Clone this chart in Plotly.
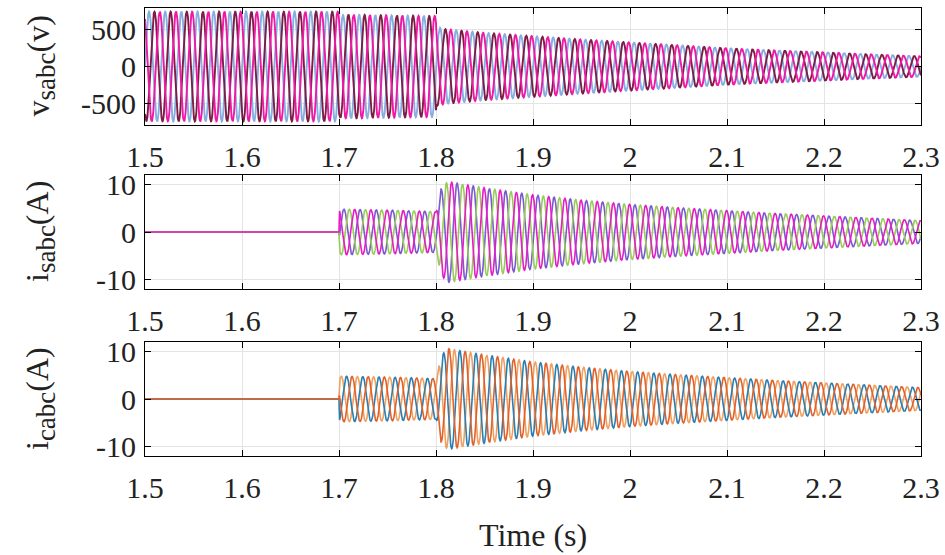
import numpy as np
import plotly.graph_objects as go

# ---------------- data ----------------
x_ticks = [1.5, 1.6, 1.7, 1.8, 1.9, 2.0, 2.1, 2.2, 2.3]
x_tick_labels = ["1.5", "1.6", "1.7", "1.8", "1.9", "2", "2.1", "2.2", "2.3"]
v_ticks = [-500, 0, 500]
v_tick_labels = ["-500", "0", "500"]
i_ticks = [-10, 0, 10]
i_tick_labels = ["-10", "0", "10"]

freq_hz = 60.0                       # counted: 6 cycles per 0.1 s
phase_deg = [0.0, -120.0, 120.0]     # three-phase set

# peak-envelope of the source voltage (V)
v_env_t = [1.5, 1.7, 1.7005, 1.71, 1.75, 1.8, 1.8005, 1.81, 1.85, 1.9, 1.95, 2.0, 2.05, 2.1, 2.15, 2.2, 2.25, 2.3]
v_env_a = [750, 750, 700, 710, 700, 690, 540, 510, 460, 415, 370, 330, 290, 250, 220, 195, 165, 140]

# peak-envelope of the currents (A) read from the middle / bottom panels
i_env_t = [1.5, 1.7, 1.7005, 1.75, 1.7995, 1.8, 1.805, 1.812, 1.85, 1.9, 1.95, 2.0, 2.05, 2.1, 2.15, 2.2, 2.25, 2.3]
i_env_a = [0, 0, 4.8, 4.6, 4.3, 4.3, 9.0, 10.6, 9.3, 7.8, 6.7, 5.8, 5.1, 4.5, 3.9, 3.4, 2.9, 2.4]

v_colors = ["#86aee0", "#7d1d45", "#ee1aa6"]
is_colors = ["#7a5ad0", "#98cc58", "#e61cc4"]
ic_colors = ["#f0a060", "#2a7eb0", "#e0622a"]

# ---------------- build waveforms ----------------
t = np.arange(1.5, 2.3 + 1e-9, 0.0002)
v_env = np.interp(t, v_env_t, v_env_a)
i_env = np.interp(t, i_env_t, i_env_a)

def phases(env, shift_deg):
    return [env * np.sin(2 * np.pi * freq_hz * t + np.radians(p + shift_deg)) for p in phase_deg]

v_abc = phases(v_env, 0)
is_abc = phases(i_env, -20)
ic_abc = phases(i_env, 40)

FONT = "Liberation Serif"
FS = 30
TXT = "#222222"

fig = go.Figure()
for k in range(3):
    fig.add_trace(go.Scatter(x=t, y=v_abc[k], mode="lines", line=dict(color=v_colors[k], width=1.9),
                             xaxis="x", yaxis="y", showlegend=False, hoverinfo="skip"))
for k in range(3):
    fig.add_trace(go.Scatter(x=t, y=is_abc[k], mode="lines", line=dict(color=is_colors[k], width=1.6),
                             xaxis="x2", yaxis="y2", showlegend=False, hoverinfo="skip"))
for k in range(3):
    fig.add_trace(go.Scatter(x=t, y=ic_abc[k], mode="lines", line=dict(color=ic_colors[k], width=1.6),
                             xaxis="x3", yaxis="y3", showlegend=False, hoverinfo="skip"))

W, H = 945, 555
x0, x1 = 145 / W, 921 / W
doms = [(1 - 125 / H, 1 - 8 / H), (1 - 289 / H, 1 - 175 / H), (1 - 456 / H, 1 - 342 / H)]

common_x = dict(range=[1.5, 2.3], tickvals=x_ticks, ticktext=x_tick_labels, domain=[x0, x1],
                showline=True, linecolor="black", linewidth=1, mirror="ticks",
                ticks="inside", ticklen=6, tickcolor="black", showgrid=True, gridcolor="#e4e4e4",
                gridwidth=1, zeroline=False, tickfont=dict(family=FONT, size=FS, color=TXT),
                ticklabelstandoff=5, automargin=False)
common_y = dict(showline=True, linecolor="black", linewidth=1, mirror="ticks",
                ticks="inside", ticklen=6, tickcolor="black", showgrid=True, gridcolor="#e4e4e4",
                gridwidth=1, zeroline=False, tickfont=dict(family=FONT, size=FS, color=TXT),
                ticklabelstandoff=2, automargin=False)

fig.update_layout(
    width=W, height=H, margin=dict(l=0, r=0, t=0, b=0),
    paper_bgcolor="white", plot_bgcolor="white",
    font=dict(family=FONT, size=FS, color=TXT),
    xaxis=dict(common_x, anchor="y"),
    xaxis2=dict(common_x, anchor="y2"),
    xaxis3=dict(common_x, anchor="y3"),
    yaxis=dict(common_y, range=[-800, 800], tickvals=v_ticks, ticktext=v_tick_labels,
               domain=list(doms[0]), anchor="x"),
    yaxis2=dict(common_y, range=[-12, 12], tickvals=i_ticks, ticktext=i_tick_labels,
                domain=list(doms[1]), anchor="x2"),
    yaxis3=dict(common_y, range=[-12, 12], tickvals=i_ticks, ticktext=i_tick_labels,
                domain=list(doms[2]), anchor="x3"),
)

SUB = "<sub><span style='font-size:27px'>{}</span></sub>"
titles = ["v" + SUB.format("sabc") + "(v)", "i" + SUB.format("sabc") + "(A)", "i" + SUB.format("cabc") + "(A)"]
for (d0, d1), txt in zip(doms, titles):
    fig.add_annotation(text=txt, xref="paper", yref="paper", x=40 / W, y=(d0 + d1) / 2,
                       textangle=-90, showarrow=False, xanchor="center", yanchor="middle",
                       font=dict(family=FONT, size=32, color=TXT))
fig.add_annotation(text="Time (s)", xref="paper", yref="paper", x=(x0 + x1) / 2, y=1 - 535 / H,
                   showarrow=False, xanchor="center", yanchor="middle",
                   font=dict(family=FONT, size=32, color=TXT))

fig.write_html("out.html")
